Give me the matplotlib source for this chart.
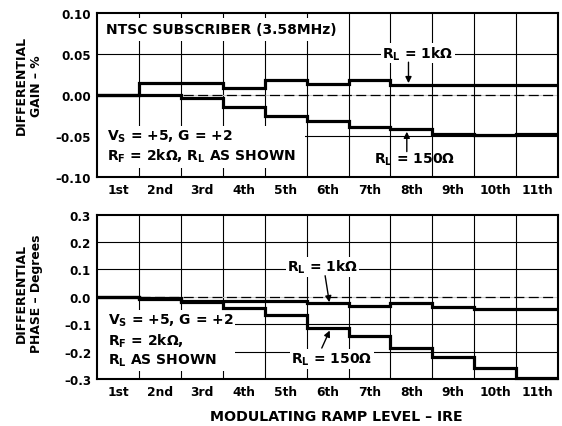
import numpy as np
import matplotlib
matplotlib.use("Agg")
import matplotlib.pyplot as plt
from matplotlib.patches import Rectangle

plt.rcParams['font.family'] = ['DejaVu Sans']
plt.rcParams['font.weight'] = 'bold'
plt.rcParams['mathtext.fontset'] = 'custom'
plt.rcParams['mathtext.rm'] = 'DejaVu Sans:bold'
plt.rcParams['mathtext.it'] = 'DejaVu Sans:bold'
plt.rcParams['mathtext.bf'] = 'DejaVu Sans:bold'

# ramp steps (one value per step)
levels = ['1st', '2nd', '3rd', '4th', '5th', '6th', '7th', '8th', '9th', '10th', '11th']
gain_1k = [0.000, 0.015, 0.015, 0.009, 0.018, 0.013, 0.018, 0.012, 0.012, 0.012, 0.012]
gain_150 = [0.000, 0.000, -0.004, -0.015, -0.025, -0.032, -0.039, -0.042, -0.048, -0.049, -0.048]
phase_1k = [0.000, -0.005, -0.015, -0.015, -0.015, -0.024, -0.034, -0.022, -0.038, -0.045, -0.045]
phase_150 = [0.000, -0.007, -0.018, -0.039, -0.067, -0.112, -0.143, -0.186, -0.221, -0.259, -0.298]

gain_ticks = [-0.10, -0.05, 0.00, 0.05, 0.10]
gain_ticklabels = ['–0.10', '–0.05', '0.00', '0.05', '0.10']
phase_ticks = [-0.3, -0.2, -0.1, 0.0, 0.1, 0.2, 0.3]
phase_ticklabels = ['–0.3', '–0.2', '–0.1', '0.0', '0.1', '0.2', '0.3']

YTICK_FS = 8.6
XTICK_FS = 8.8
TXT_FS = 10
YLAB_FS = 8.9
XLAB_FS = 10.2


def setup_axes(ax, ylim, ticks, ticklabels):
    n = len(levels)
    edges = np.arange(n + 1)
    ax.set_xlim(0, n)
    ax.set_ylim(*ylim)
    ax.set_xticks(edges[:-1] + 0.5)
    ax.set_xticklabels(levels, fontsize=XTICK_FS, fontweight='bold')
    ax.set_yticks(ticks)
    ax.set_yticklabels(ticklabels, fontsize=YTICK_FS, fontweight='bold')
    ax.tick_params(length=0, pad=4.5)
    ax.tick_params(axis='x', pad=4)
    for s in ax.spines.values():
        s.set_linewidth(1.5)
    for x in edges[1:-1]:
        ax.axvline(x, color='k', lw=0.8, zorder=1)
    for t in ticks:
        if t == 0:
            ax.axhline(0, color='#c8c8c8', lw=0.8, zorder=1)
            ax.axhline(0, color='k', lw=0.9, linestyle=(0, (8, 3.5)), zorder=1.5)
        elif ylim[0] < t < ylim[1]:
            ax.axhline(t, color='k', lw=0.8, zorder=1)
    return edges


def steps(ax, edges, vals):
    ax.stairs(vals, edges, baseline=None, color='k', lw=2.3, zorder=3, clip_on=False)


def blank(ax, x0, y0, w, h):
    # white area behind a text block, hides the grid
    ax.add_patch(Rectangle((x0, y0), w, h, facecolor='white', edgecolor='none', zorder=2))


fig = plt.figure(figsize=(5.62, 4.27), dpi=100)
ax1 = fig.add_axes([0.1731, 0.5831, 0.8198, 0.3841])
ax2 = fig.add_axes([0.1731, 0.1101, 0.8198, 0.3848])

wbox = dict(facecolor='white', edgecolor='none', pad=1.0)
arrow = dict(arrowstyle='-|>', color='k', lw=1, mutation_scale=9, shrinkA=0, shrinkB=0)

# top: differential gain
e = setup_axes(ax1, (-0.10, 0.10), gain_ticks, gain_ticklabels)
blank(ax1, 0.02, 0.0657, 5.88, 0.0287)
blank(ax1, 0.02, -0.0896, 4.94, 0.052)
steps(ax1, e, gain_1k)
steps(ax1, e, gain_150)
ax1.text(0.22, 0.080, 'NTSC SUBSCRIBER (3.58MHz)', fontsize=TXT_FS, va='center', ha='left', zorder=4)
ax1.text(0.23, -0.0496, 'V$_\\mathrm{S}$ = +5, G = +2', fontsize=TXT_FS, va='center', ha='left', zorder=4)
ax1.text(0.23, -0.074, 'R$_\\mathrm{F}$ = 2kΩ, R$_\\mathrm{L}$ AS SHOWN', fontsize=TXT_FS, va='center', ha='left', zorder=4)
ax1.text(7.65, 0.051, 'R$_\\mathrm{L}$ = 1kΩ', fontsize=TXT_FS, va='center', ha='center', bbox=wbox, zorder=4)
ax1.annotate('', xy=(7.43, 0.0145), xytext=(7.43, 0.040), arrowprops=arrow, zorder=4)
ax1.text(7.57, -0.0775, 'R$_\\mathrm{L}$ = 150Ω', fontsize=TXT_FS, va='center', ha='center', zorder=4)
ax1.annotate('', xy=(7.39, -0.0448), xytext=(7.39, -0.069), arrowprops=arrow, zorder=4)

# bottom: differential phase
e = setup_axes(ax2, (-0.3, 0.3), phase_ticks, phase_ticklabels)
blank(ax2, 0.02, -0.27, 3.27, 0.222)
steps(ax2, e, phase_1k)
steps(ax2, e, phase_150)
ax2.text(0.255, -0.084, 'V$_\\mathrm{S}$ = +5, G = +2', fontsize=TXT_FS, va='center', ha='left', zorder=4)
ax2.text(0.255, -0.157, 'R$_\\mathrm{F}$ = 2kΩ,', fontsize=TXT_FS, va='center', ha='left', zorder=4)
ax2.text(0.255, -0.230, 'R$_\\mathrm{L}$ AS SHOWN', fontsize=TXT_FS, va='center', ha='left', zorder=4)
ax2.text(5.375, 0.110, 'R$_\\mathrm{L}$ = 1kΩ', fontsize=TXT_FS, va='center', ha='center', bbox=wbox, zorder=4)
ax2.annotate('', xy=(5.54, -0.0197), xytext=(5.44, 0.077), arrowprops=arrow, zorder=4)
ax2.text(5.60, -0.227, 'R$_\\mathrm{L}$ = 150Ω', fontsize=TXT_FS, va='center', ha='center', bbox=wbox, zorder=4)
ax2.annotate('', xy=(5.55, -0.123), xytext=(5.36, -0.187), arrowprops=arrow, zorder=4)

fig.text(0.052, 0.799, 'DIFFERENTIAL\nGAIN – %', rotation=90, ha='center', va='center',
         multialignment='center', fontsize=YLAB_FS, linespacing=1.2)
fig.text(0.052, 0.3115, 'DIFFERENTIAL\nPHASE – Degrees', rotation=90, ha='center', va='center',
         multialignment='center', fontsize=YLAB_FS, linespacing=1.2)
fig.text(0.598, 0.024, 'MODULATING RAMP LEVEL – IRE', ha='center', va='center', fontsize=XLAB_FS)

fig.savefig('out.png', dpi=100)
